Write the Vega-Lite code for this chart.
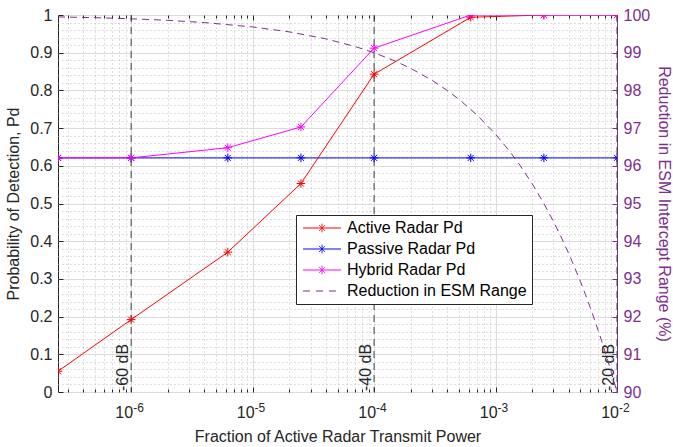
{
  "$schema": "https://vega.github.io/schema/vega-lite/v6.json",
  "width": 559,
  "height": 377,
  "autosize": {"type": "none"},
  "padding": {"left": 58, "top": 15, "right": 56, "bottom": 55},
  "background": "white",
  "config": {
    "font": "Liberation Sans",
    "view": {"stroke": "#262626", "strokeWidth": 1},
    "axis": {
      "labelFont": "Liberation Sans",
      "labelFontSize": 16,
      "labelColor": "#262626",
      "titleFont": "Liberation Sans",
      "titleFontSize": 16,
      "titleFontWeight": "normal",
      "titleColor": "#262626",
      "domain": false,
      "tickColor": "#262626",
      "gridColor": "#dcdcdc",
      "gridOpacity": 1
    },
    "legend": {
      "labelFont": "Liberation Sans",
      "labelFontSize": 16,
      "labelColor": "#000000"
    }
  },
  "datasets": {
    "pd": [
      {"f": 2.5e-7, "pd": 0.055, "series": "Active Radar Pd"},
      {"f": 1e-6, "pd": 0.192, "series": "Active Radar Pd"},
      {"f": 6.25e-6, "pd": 0.371, "series": "Active Radar Pd"},
      {"f": 2.5e-5, "pd": 0.553, "series": "Active Radar Pd"},
      {"f": 1e-4, "pd": 0.843, "series": "Active Radar Pd"},
      {"f": 6.25e-4, "pd": 0.994, "series": "Active Radar Pd"},
      {"f": 2.5e-3, "pd": 1.0, "series": "Active Radar Pd"},
      {"f": 1e-2, "pd": 1.0, "series": "Active Radar Pd"},
      {"f": 2.5e-7, "pd": 0.621, "series": "Passive Radar Pd"},
      {"f": 1e-6, "pd": 0.621, "series": "Passive Radar Pd"},
      {"f": 6.25e-6, "pd": 0.621, "series": "Passive Radar Pd"},
      {"f": 2.5e-5, "pd": 0.621, "series": "Passive Radar Pd"},
      {"f": 1e-4, "pd": 0.621, "series": "Passive Radar Pd"},
      {"f": 6.25e-4, "pd": 0.621, "series": "Passive Radar Pd"},
      {"f": 2.5e-3, "pd": 0.621, "series": "Passive Radar Pd"},
      {"f": 1e-2, "pd": 0.621, "series": "Passive Radar Pd"},
      {"f": 2.5e-7, "pd": 0.621, "series": "Hybrid Radar Pd"},
      {"f": 1e-6, "pd": 0.621, "series": "Hybrid Radar Pd"},
      {"f": 6.25e-6, "pd": 0.648, "series": "Hybrid Radar Pd"},
      {"f": 2.5e-5, "pd": 0.703, "series": "Hybrid Radar Pd"},
      {"f": 1e-4, "pd": 0.912, "series": "Hybrid Radar Pd"},
      {"f": 6.25e-4, "pd": 1.0, "series": "Hybrid Radar Pd"},
      {"f": 2.5e-3, "pd": 1.0, "series": "Hybrid Radar Pd"},
      {"f": 1e-2, "pd": 1.0, "series": "Hybrid Radar Pd"}
    ],
    "esm": [
      {"f": 2.5e-7, "r": 99.95, "series": "Reduction in ESM Range"},
      {"f": 5e-7, "r": 99.929, "series": "Reduction in ESM Range"},
      {"f": 1e-6, "r": 99.9, "series": "Reduction in ESM Range"},
      {"f": 2e-6, "r": 99.859, "series": "Reduction in ESM Range"},
      {"f": 4e-6, "r": 99.8, "series": "Reduction in ESM Range"},
      {"f": 1e-5, "r": 99.684, "series": "Reduction in ESM Range"},
      {"f": 2e-5, "r": 99.553, "series": "Reduction in ESM Range"},
      {"f": 4e-5, "r": 99.368, "series": "Reduction in ESM Range"},
      {"f": 7e-5, "r": 99.163, "series": "Reduction in ESM Range"},
      {"f": 1e-4, "r": 99.0, "series": "Reduction in ESM Range"},
      {"f": 1.5e-4, "r": 98.775, "series": "Reduction in ESM Range"},
      {"f": 2e-4, "r": 98.586, "series": "Reduction in ESM Range"},
      {"f": 3e-4, "r": 98.268, "series": "Reduction in ESM Range"},
      {"f": 4e-4, "r": 98.0, "series": "Reduction in ESM Range"},
      {"f": 5e-4, "r": 97.764, "series": "Reduction in ESM Range"},
      {"f": 7e-4, "r": 97.354, "series": "Reduction in ESM Range"},
      {"f": 1e-3, "r": 96.838, "series": "Reduction in ESM Range"},
      {"f": 1.3e-3, "r": 96.394, "series": "Reduction in ESM Range"},
      {"f": 1.6e-3, "r": 96.0, "series": "Reduction in ESM Range"},
      {"f": 2e-3, "r": 95.528, "series": "Reduction in ESM Range"},
      {"f": 2.5e-3, "r": 95.0, "series": "Reduction in ESM Range"},
      {"f": 3e-3, "r": 94.523, "series": "Reduction in ESM Range"},
      {"f": 3.5e-3, "r": 94.084, "series": "Reduction in ESM Range"},
      {"f": 4e-3, "r": 93.675, "series": "Reduction in ESM Range"},
      {"f": 4.5e-3, "r": 93.292, "series": "Reduction in ESM Range"},
      {"f": 5e-3, "r": 92.929, "series": "Reduction in ESM Range"},
      {"f": 5.5e-3, "r": 92.584, "series": "Reduction in ESM Range"},
      {"f": 6e-3, "r": 92.254, "series": "Reduction in ESM Range"},
      {"f": 6.5e-3, "r": 91.938, "series": "Reduction in ESM Range"},
      {"f": 7e-3, "r": 91.633, "series": "Reduction in ESM Range"},
      {"f": 7.5e-3, "r": 91.34, "series": "Reduction in ESM Range"},
      {"f": 8e-3, "r": 91.056, "series": "Reduction in ESM Range"},
      {"f": 8.5e-3, "r": 90.78, "series": "Reduction in ESM Range"},
      {"f": 9e-3, "r": 90.513, "series": "Reduction in ESM Range"},
      {"f": 9.5e-3, "r": 90.253, "series": "Reduction in ESM Range"},
      {"f": 1e-2, "r": 90.0, "series": "Reduction in ESM Range"}
    ],
    "db": [
      {"f": 1e-6, "label": "-60 dB"},
      {"f": 1e-4, "label": "-40 dB"},
      {"f": 1e-2, "label": "-20 dB"}
    ],
    "xticks": [
      {"f": 1e-6, "base": "10", "exp": "-6"},
      {"f": 1e-5, "base": "10", "exp": "-5"},
      {"f": 1e-4, "base": "10", "exp": "-4"},
      {"f": 1e-3, "base": "10", "exp": "-3"},
      {"f": 1e-2, "base": "10", "exp": "-2"}
    ]
  },
  "layer": [
    {
      "layer": [
        {
          "data": {"name": "db"},
          "mark": {"type": "rule", "color": "#404040", "strokeWidth": 1, "strokeDash": [7, 5]},
          "encoding": {
            "x": {
              "field": "f", "type": "quantitative",
              "scale": {"type": "log", "domain": [2.5e-7, 1e-2]},
              "axis": {
                "orient": "bottom", "title": null, "labels": false,
                "values": [3e-7, 4e-7, 5e-7, 6e-7, 7e-7, 8e-7, 9e-7, 2e-6, 3e-6, 4e-6, 5e-6, 6e-6, 7e-6, 8e-6, 9e-6, 2e-5, 3e-5, 4e-5, 5e-5, 6e-5, 7e-5, 8e-5, 9e-5, 2e-4, 3e-4, 4e-4, 5e-4, 6e-4, 7e-4, 8e-4, 9e-4, 2e-3, 3e-3, 4e-3, 5e-3, 6e-3, 7e-3, 8e-3, 9e-3],
                "grid": true, "gridDash": [1, 3], "gridColor": "#bdbdbd",
                "ticks": true, "tickSize": -3
              }
            }
          }
        },
        {
          "data": {"name": "db"},
          "mark": {"type": "text", "angle": 270, "align": "left", "baseline": "bottom", "fontSize": 16, "color": "#262626", "dx": 1, "font": "Liberation Sans"},
          "encoding": {
            "x": {"field": "f", "type": "quantitative", "scale": {"type": "log", "domain": [2.5e-7, 1e-2]}, "axis": null},
            "y": {
              "datum": 0, "type": "quantitative", "scale": {"domain": [0, 1]},
              "axis": {
                "orient": "left", "title": null, "labels": false, "ticks": false,
                "values": [0.02, 0.04, 0.06, 0.08, 0.12, 0.14, 0.16, 0.18, 0.22, 0.24, 0.26, 0.28, 0.32, 0.34, 0.36, 0.38, 0.42, 0.44, 0.46, 0.48, 0.52, 0.54, 0.56, 0.58, 0.62, 0.64, 0.66, 0.68, 0.72, 0.74, 0.76, 0.78, 0.82, 0.84, 0.86, 0.88, 0.92, 0.94, 0.96, 0.98],
                "grid": true, "gridDash": [1, 3], "gridColor": "#bdbdbd"
              }
            },
            "text": {"field": "label"}
          }
        },
        {
          "data": {"name": "xticks"},
          "mark": {"type": "text", "align": "right", "baseline": "alphabetic", "fontSize": 16, "color": "#262626", "dx": 2, "dy": 26, "font": "Liberation Sans"},
          "encoding": {
            "x": {"field": "f", "type": "quantitative", "scale": {"type": "log", "domain": [2.5e-7, 1e-2]}, "axis": null},
            "y": {"datum": 0, "type": "quantitative", "scale": {"domain": [0, 1]}, "axis": null},
            "text": {"field": "base"}
          }
        },
        {
          "data": {"name": "xticks"},
          "mark": {"type": "text", "align": "left", "baseline": "alphabetic", "fontSize": 12, "color": "#262626", "dx": 2, "dy": 20, "font": "Liberation Sans"},
          "encoding": {
            "x": {"field": "f", "type": "quantitative", "scale": {"type": "log", "domain": [2.5e-7, 1e-2]}, "axis": null},
            "y": {"datum": 0, "type": "quantitative", "scale": {"domain": [0, 1]}, "axis": null},
            "text": {"field": "exp"}
          }
        },
        {
          "data": {"name": "pd"},
          "transform": [{"filter": "datum.series === 'Passive Radar Pd'"}],
          "mark": {"type": "line", "strokeWidth": 1, "clip": true},
          "encoding": {
            "x": {
              "field": "f", "type": "quantitative",
              "scale": {"type": "log", "domain": [2.5e-7, 1e-2]},
              "axis": {
                "orient": "bottom",
                "title": "Fraction of Active Radar Transmit Power",
                "values": [1e-6, 1e-5, 1e-4, 1e-3, 1e-2],
                "labels": false,
                "grid": true, "ticks": true, "tickSize": -5, "titlePadding": 36
              }
            },
            "y": {
              "field": "pd", "type": "quantitative",
              "scale": {"domain": [0, 1]},
              "axis": {
                "orient": "left",
                "title": "Probability of Detection, Pd",
                "values": [0, 0.1, 0.2, 0.3, 0.4, 0.5, 0.6, 0.7, 0.8, 0.9, 1],
                "format": "~g",
                "grid": true, "ticks": true, "tickSize": -5, "labelPadding": 11, "titlePadding": 8
              }
            },
            "color": {
              "field": "series", "type": "nominal",
              "scale": {
                "domain": ["Active Radar Pd", "Passive Radar Pd", "Hybrid Radar Pd", "Reduction in ESM Range"],
                "range": ["#ff0000", "#0000ff", "#ff00ff", "#7e2f8e"]
              },
              "legend": {
                "title": null,
                "orient": "none",
                "legendX": 238,
                "legendY": 200,
                "strokeColor": "#262626",
                "fillColor": "white",
                "padding": 5,
                "rowPadding": 5,
                "symbolSize": 64,
                "symbolOffset": 13,
                "labelOffset": 17,
                "labelLimit": 300,
                "symbolStrokeWidth": 1,
                "symbolFillColor": "transparent",
                "labelFontSize": 16,
                "encode": {
                  "symbols": {
                    "update": {
                      "shape": {"signal": "datum.value === 'Reduction in ESM Range' ? 'M-4.75,0L4.75,0' : 'M-4.75,0L4.75,0M0,-1.07L0,1.07M-0.76,-0.76L0.76,0.76M-0.76,0.76L0.76,-0.76'"},
                      "strokeDash": {"signal": "datum.value === 'Reduction in ESM Range' ? [7, 6] : [1, 0]"},
                      "fill": {"value": "transparent"},
                      "strokeWidth": {"value": 1}
                    }
                  }
                }
              }
            }
          }
        },
        {
          "data": {"name": "pd"},
          "transform": [{"filter": "datum.series !== 'Passive Radar Pd'"}],
          "mark": {"type": "line", "strokeWidth": 1, "clip": true},
          "encoding": {
            "x": {"field": "f", "type": "quantitative", "scale": {"type": "log", "domain": [2.5e-7, 1e-2]}, "axis": null},
            "y": {"field": "pd", "type": "quantitative", "scale": {"domain": [0, 1]}, "axis": null},
            "color": {"field": "series", "type": "nominal"},
            "detail": {"field": "series"}
          }
        },
        {
          "data": {"name": "pd"},
          "mark": {"type": "point", "filled": false, "size": 74, "strokeWidth": 1, "clip": true, "opacity": 1,
                   "shape": "M0,-1L0,1M-1,0L1,0M-0.7,-0.7L0.7,0.7M-0.7,0.7L0.7,-0.7"},
          "encoding": {
            "x": {
              "field": "f", "type": "quantitative",
              "scale": {"type": "log", "domain": [2.5e-7, 1e-2]},
              "axis": {"orient": "top", "title": null, "labels": false, "values": [1e-6, 1e-5, 1e-4, 1e-3, 1e-2], "grid": false, "ticks": true, "tickSize": -5}
            },
            "y": {"field": "pd", "type": "quantitative", "scale": {"domain": [0, 1]}, "axis": null},
            "color": {"field": "series", "type": "nominal"}
          }
        }
      ],
      "resolve": {"axis": {"x": "independent", "y": "independent"}}
    },
    {
      "data": {"name": "esm"},
      "mark": {"type": "line", "strokeWidth": 1, "strokeDash": [7, 5], "clip": true},
      "encoding": {
        "x": {
          "field": "f", "type": "quantitative",
          "scale": {"type": "log", "domain": [2.5e-7, 1e-2]},
          "axis": {
            "orient": "top", "title": null, "labels": false,
            "values": [3e-7, 4e-7, 5e-7, 6e-7, 7e-7, 8e-7, 9e-7, 2e-6, 3e-6, 4e-6, 5e-6, 6e-6, 7e-6, 8e-6, 9e-6, 2e-5, 3e-5, 4e-5, 5e-5, 6e-5, 7e-5, 8e-5, 9e-5, 2e-4, 3e-4, 4e-4, 5e-4, 6e-4, 7e-4, 8e-4, 9e-4, 2e-3, 3e-3, 4e-3, 5e-3, 6e-3, 7e-3, 8e-3, 9e-3],
            "grid": false, "ticks": true, "tickSize": -3
          }
        },
        "y": {
          "field": "r", "type": "quantitative",
          "scale": {"domain": [90, 100]},
          "axis": {
            "orient": "right",
            "title": "Reduction in ESM Intercept Range (%)",
            "values": [90, 91, 92, 93, 94, 95, 96, 97, 98, 99, 100],
            "grid": false,
            "domain": true, "domainColor": "#7e2f8e",
            "ticks": true, "tickSize": -5, "tickColor": "#7e2f8e",
            "labelColor": "#7e2f8e", "titleColor": "#7e2f8e",
            "labelPadding": 11, "titlePadding": 6
          }
        },
        "color": {"field": "series", "type": "nominal"}
      }
    }
  ],
  "resolve": {"scale": {"y": "independent"}, "axis": {"x": "independent"}}
}
